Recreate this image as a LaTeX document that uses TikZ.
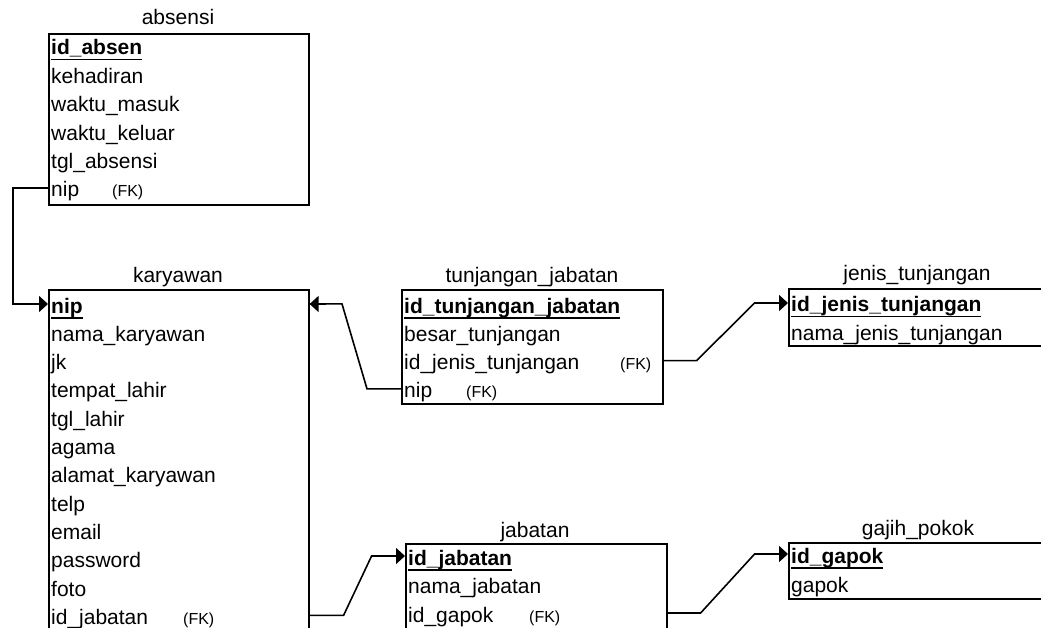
\documentclass[tikz,border=0pt]{standalone}
\usepackage{fontspec}
\setmainfont{Liberation Sans}
\usetikzlibrary{arrows.meta}
\newcommand{\pk}[1]{%
	\setbox0\hbox{\textbf{#1}}\rlap{\rule[-5.5pt]{\wd0}{1.5pt}}\box0}
\tikzset{
	tabel/.style={draw, line width=1.6pt, rectangle, anchor=north west, inner sep=0pt},
	judul/.style={anchor=base, inner sep=0pt, font=\fontsize{21}{24}\selectfont},
	baris/.style={anchor=west, inner sep=0pt, text height=18pt, text depth=0pt, font=\fontsize{21}{24}\selectfont},
	fk/.style={baris, font=\fontsize{16}{18}\selectfont},
	relasi/.style={line width=1.6pt},
}

\begin{document}
\begin{tikzpicture}[x=1pt, y=-1pt, >={Triangle[length=9pt,width=16pt]}]
	\useasboundingbox (0,0) rectangle (1041,628);
	% absensi
	\node [tabel, minimum width=260pt, minimum height=171pt] (absensi) at (48,33) {};
	\node [judul] at (178,25) {absensi};
	\node [baris] (abs1) at (51,46) {\pk{id\_absen}};
	\node [baris] (abs2) at (51,74.4) {kehadiran};
	\node [baris] (abs3) at (51,102.8) {waktu\_masuk};
	\node [baris] (abs4) at (51,131.2) {waktu\_keluar};
	\node [baris] (abs5) at (51,159.6) {tgl\_absensi};
	\node [baris] (abs6) at (51,188) {nip};
	\node [fk] at (112,188) {(FK)};
	% karyawan
	\node [tabel, minimum width=260pt, minimum height=360pt] (karyawan) at (48,289) {};
	\node [judul] at (178,283) {karyawan};
	\node [baris] (kar1) at (51,304) {\pk{nip}};
	\node [baris] (kar2) at (51,332.3) {nama\_karyawan};
	\node [baris] (kar3) at (51,360.6) {jk};
	\node [baris] (kar4) at (51,388.9) {tempat\_lahir};
	\node [baris] (kar5) at (51,417.2) {tgl\_lahir};
	\node [baris] (kar6) at (51,445.5) {agama};
	\node [baris] (kar7) at (51,473.8) {alamat\_karyawan};
	\node [baris] (kar8) at (51,502.1) {telp};
	\node [baris] (kar9) at (51,530.4) {email};
	\node [baris] (kar10) at (51,558.7) {password};
	\node [baris] (kar11) at (51,587) {foto};
	\node [baris] (kar12) at (51,615.3) {id\_jabatan};
	\node [fk] at (183,615.3) {(FK)};
	% tunjangan_jabatan
	\node [tabel, minimum width=261pt, minimum height=114pt] (tunjangan) at (401,289) {};
	\node [judul] at (532,283) {tunjangan\_jabatan};
	\node [baris] (tj1) at (404,304) {\pk{id\_tunjangan\_jabatan}};
	\node [baris] (tj2) at (404,332.3) {besar\_tunjangan};
	\node [baris] (tj3) at (404,360.6) {id\_jenis\_tunjangan};
	\node [baris] (tj4) at (404,388.9) {nip};
	\node [fk] at (620,360.6) {(FK)};
	\node [fk] at (466,388.9) {(FK)};
	% jenis_tunjangan
	\node [tabel, minimum width=280pt, minimum height=57pt] (jenis) at (788,288) {};
	\node [judul] at (917,280) {jenis\_tunjangan};
	\node [baris] (jt1) at (791,303) {\pk{id\_jenis\_tunjangan}};
	\node [baris] (jt2) at (791,331) {nama\_jenis\_tunjangan};
	% jabatan
	\node [tabel, minimum width=261pt, minimum height=100pt] (jabatan) at (405,543) {};
	\node [judul] at (535,537) {jabatan};
	\node [baris] (jb1) at (408,556) {\pk{id\_jabatan}};
	\node [baris] (jb2) at (408,584.5) {nama\_jabatan};
	\node [baris] (jb3) at (408,613) {id\_gapok};
	\node [fk] at (529,613) {(FK)};
	% gajih_pokok
	\node [tabel, minimum width=280pt, minimum height=56pt] (gajih) at (788,542) {};
	\node [judul] at (918,535) {gajih\_pokok};
	\node [baris] (gp1) at (791,554) {\pk{id\_gapok}};
	\node [baris] (gp2) at (791,583) {gapok};
	% relasi
	\draw [relasi,->] (absensi.west |- abs6) -- ++(-35,0) |- (karyawan.west |- kar1);
	\draw [relasi,->] (tunjangan.west |- tj4) -- ++(-34,0) -- ++(-25,-85) -- (karyawan.east |- kar1);
	\draw [relasi,->] (tunjangan.east |- tj3) -- ++(33,0) -- ++(58,-57.6) -- (jenis.west |- jt1);
	\draw [relasi,->] (karyawan.east |- kar12) -- ++(34,0) -- ++(28,-59.3) -- (jabatan.west |- jb1);
	\draw [relasi,->] (jabatan.east |- jb3) -- ++(33,0) -- ++(54,-59) -- (gajih.west |- gp1);
\end{tikzpicture}
\end{document}
